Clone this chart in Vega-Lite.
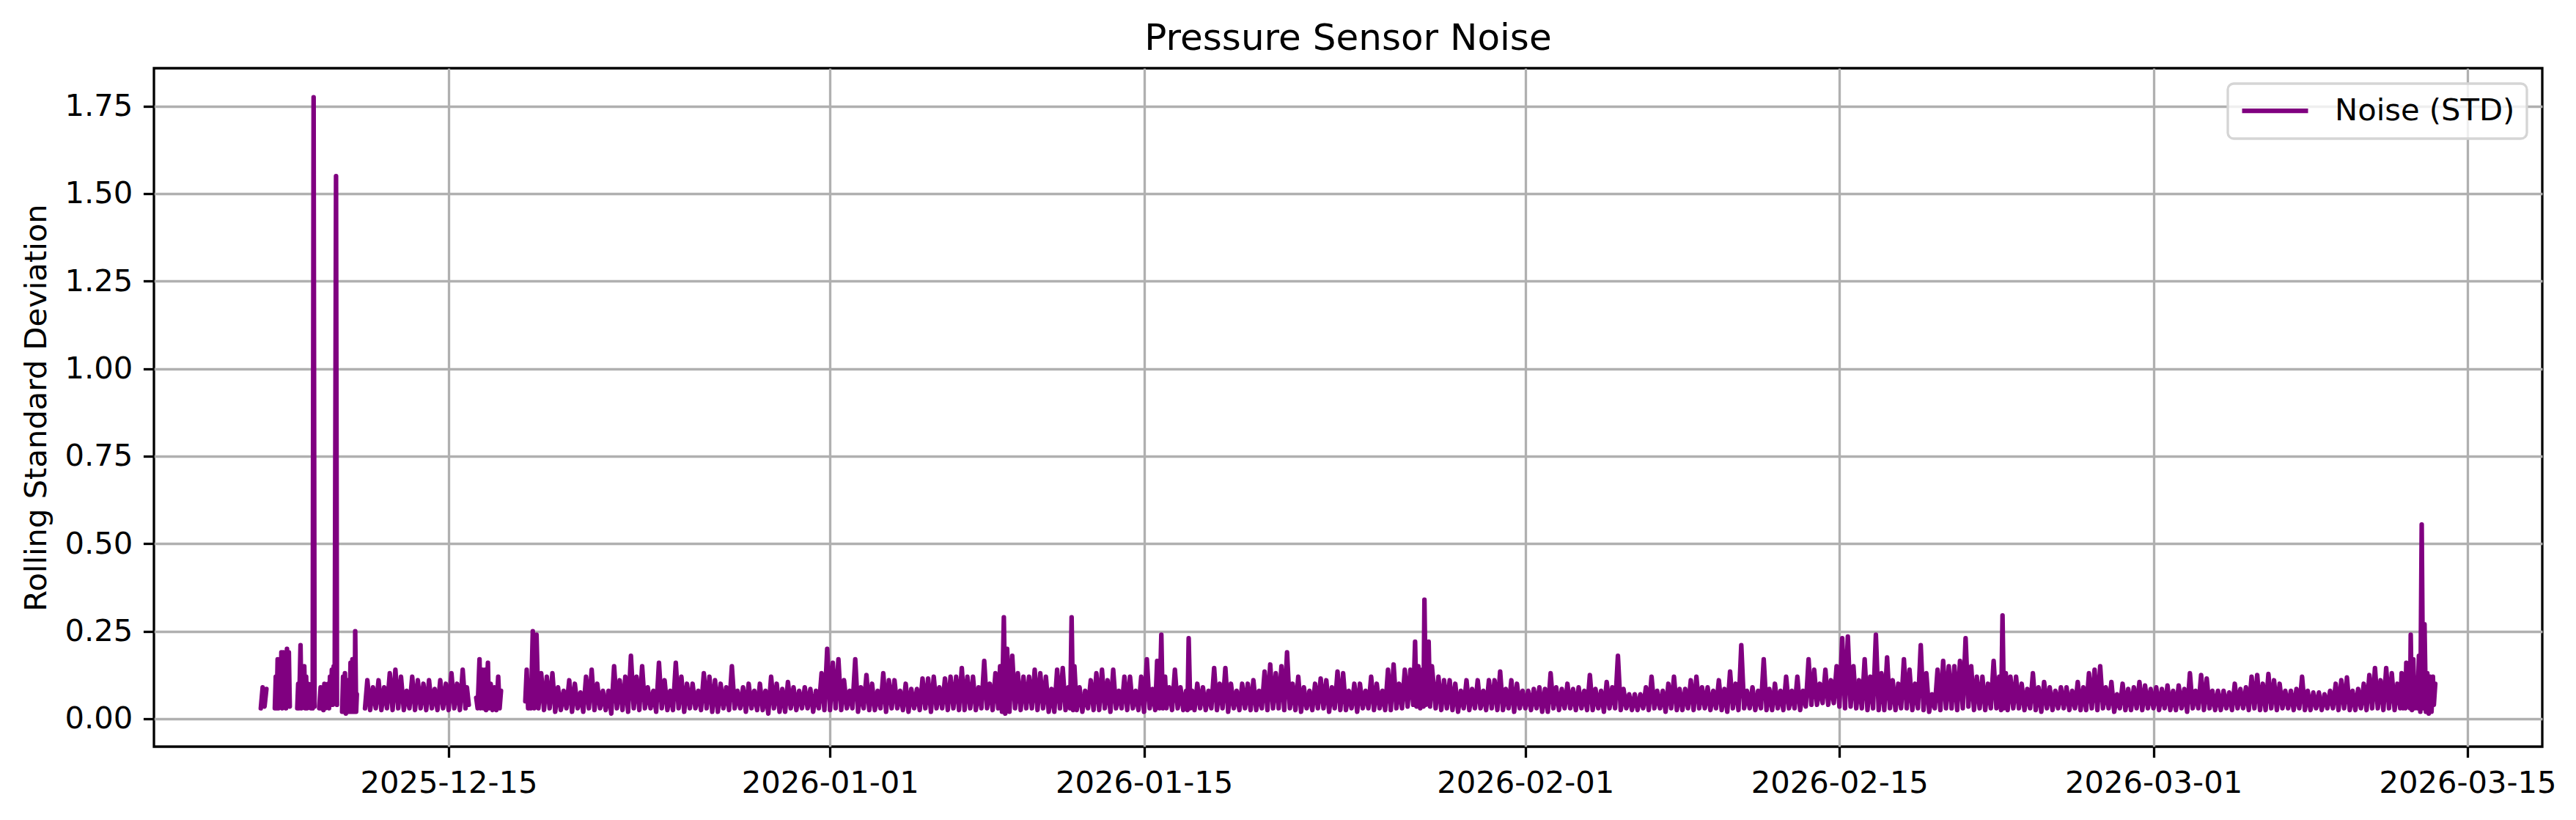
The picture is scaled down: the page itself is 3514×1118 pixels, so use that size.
{
"$schema": "https://vega.github.io/schema/vega-lite/v6.json",
"width": 3258,
"height": 925,
"autosize": {"type": "none"},
"padding": {"left": 210, "top": 93, "right": 46, "bottom": 100},
"background": "white",
"title": {"text": "Pressure Sensor Noise", "fontSize": 50, "font": "DejaVu Sans", "fontWeight": "normal", "color": "black", "anchor": "middle", "frame": "group", "offset": -25, "baseline": "alphabetic"},
"data": {"values": [
{"t":"2025-12-06T15:00","v":0.03},{"t":"2025-12-06T17:00","v":0.09},{"t":"2025-12-06T19:00","v":0.035},{"t":"2025-12-06T21:00","v":0.085},{"t":"2025-12-06T23:00","v":null},
{"t":"2025-12-07T06:00","v":0.03},{"t":"2025-12-07T07:00","v":0.12},{"t":"2025-12-07T08:00","v":0.03},{"t":"2025-12-07T09:00","v":0.17},{"t":"2025-12-07T10:00","v":0.03},{"t":"2025-12-07T11:00","v":0.17},{"t":"2025-12-07T12:00","v":0.035},{"t":"2025-12-07T13:00","v":0.19},{"t":"2025-12-07T14:00","v":0.03},{"t":"2025-12-07T15:00","v":0.19},{"t":"2025-12-07T16:00","v":0.035},{"t":"2025-12-07T17:00","v":0.18},{"t":"2025-12-07T18:00","v":0.03},{"t":"2025-12-07T19:00","v":0.2},{"t":"2025-12-07T20:00","v":0.04},{"t":"2025-12-07T21:00","v":0.19},{"t":"2025-12-07T22:00","v":0.035},{"t":"2025-12-08T02:00","v":null},
{"t":"2025-12-08T06:00","v":0.03},{"t":"2025-12-08T07:00","v":0.1},{"t":"2025-12-08T08:00","v":0.03},{"t":"2025-12-08T09:30","v":0.21},{"t":"2025-12-08T10:30","v":0.03},{"t":"2025-12-08T11:30","v":0.15},{"t":"2025-12-08T12:30","v":0.035},{"t":"2025-12-08T13:30","v":0.15},{"t":"2025-12-08T14:30","v":0.03},{"t":"2025-12-08T15:30","v":0.12},{"t":"2025-12-08T16:30","v":0.03},{"t":"2025-12-08T17:30","v":0.1},{"t":"2025-12-08T18:30","v":0.035},{"t":"2025-12-08T19:30","v":0.09},{"t":"2025-12-08T20:30","v":0.03},{"t":"2025-12-08T21:30","v":0.1},{"t":"2025-12-08T22:30","v":0.03},{"t":"2025-12-08T23:30","v":1.775},{"t":"2025-12-09T00:30","v":0.035},{"t":"2025-12-09T03:00","v":null},
{"t":"2025-12-09T05:30","v":0.03},{"t":"2025-12-09T07:00","v":0.09},{"t":"2025-12-09T08:00","v":0.03},{"t":"2025-12-09T09:00","v":0.08},{"t":"2025-12-09T10:00","v":0.025},{"t":"2025-12-09T11:00","v":0.1},{"t":"2025-12-09T12:00","v":0.03},{"t":"2025-12-09T13:00","v":0.09},{"t":"2025-12-09T14:00","v":0.035},{"t":"2025-12-09T15:00","v":0.1},{"t":"2025-12-09T16:00","v":0.03},{"t":"2025-12-09T17:00","v":0.12},{"t":"2025-12-09T18:00","v":0.04},{"t":"2025-12-09T19:00","v":0.14},{"t":"2025-12-09T20:00","v":0.04},{"t":"2025-12-09T21:00","v":0.15},{"t":"2025-12-09T22:00","v":0.045},{"t":"2025-12-09T23:30","v":1.55},{"t":"2025-12-10T00:30","v":0.04},{"t":"2025-12-10T03:00","v":null},
{"t":"2025-12-10T06:00","v":0.02},{"t":"2025-12-10T07:00","v":0.12},{"t":"2025-12-10T08:00","v":0.02},{"t":"2025-12-10T09:00","v":0.13},{"t":"2025-12-10T10:00","v":0.015},{"t":"2025-12-10T11:00","v":0.11},{"t":"2025-12-10T12:00","v":0.02},{"t":"2025-12-10T13:00","v":0.09},{"t":"2025-12-10T14:00","v":0.02},{"t":"2025-12-10T15:00","v":0.16},{"t":"2025-12-10T16:00","v":0.02},{"t":"2025-12-10T17:00","v":0.17},{"t":"2025-12-10T18:00","v":0.02},{"t":"2025-12-10T19:00","v":0.06},{"t":"2025-12-10T19:30","v":0.02},{"t":"2025-12-10T20:00","v":0.25},{"t":"2025-12-10T21:00","v":0.02},{"t":"2025-12-10T21:45","v":0.07},{"t":"2025-12-10T23:30","v":null},
{"t":"2025-12-11T06:30","v":0.03},{"t":"2025-12-11T09:00","v":0.11},{"t":"2025-12-11T12:00","v":0.025},{"t":"2025-12-11T15:00","v":0.09},{"t":"2025-12-11T18:00","v":0.03},{"t":"2025-12-11T21:00","v":0.11},
{"t":"2025-12-12T00:00","v":0.025},{"t":"2025-12-12T03:00","v":0.09},{"t":"2025-12-12T06:00","v":0.03},{"t":"2025-12-12T09:00","v":0.13},{"t":"2025-12-12T12:00","v":0.025},{"t":"2025-12-12T15:00","v":0.14},{"t":"2025-12-12T18:00","v":0.03},{"t":"2025-12-12T21:00","v":0.12},
{"t":"2025-12-13T00:00","v":0.025},{"t":"2025-12-13T03:00","v":0.08},{"t":"2025-12-13T06:00","v":0.03},{"t":"2025-12-13T09:00","v":0.12},{"t":"2025-12-13T12:00","v":0.025},{"t":"2025-12-13T15:00","v":0.11},{"t":"2025-12-13T18:00","v":0.03},{"t":"2025-12-13T21:00","v":0.1},
{"t":"2025-12-14T00:00","v":0.025},{"t":"2025-12-14T03:00","v":0.11},{"t":"2025-12-14T06:00","v":0.03},{"t":"2025-12-14T09:00","v":0.085},{"t":"2025-12-14T12:00","v":0.025},{"t":"2025-12-14T15:00","v":0.11},{"t":"2025-12-14T18:00","v":0.03},{"t":"2025-12-14T21:00","v":0.1},
{"t":"2025-12-15T00:00","v":0.025},{"t":"2025-12-15T03:00","v":0.13},{"t":"2025-12-15T06:00","v":0.03},{"t":"2025-12-15T09:00","v":0.1},{"t":"2025-12-15T12:00","v":0.025},{"t":"2025-12-15T15:00","v":0.14},{"t":"2025-12-15T18:00","v":0.03},{"t":"2025-12-15T19:30","v":0.09},{"t":"2025-12-15T21:30","v":0.04},{"t":"2025-12-16T00:00","v":null},
{"t":"2025-12-16T05:30","v":0.06},{"t":"2025-12-16T07:00","v":0.03},{"t":"2025-12-16T09:00","v":0.17},{"t":"2025-12-16T10:00","v":0.03},{"t":"2025-12-16T12:00","v":0.14},{"t":"2025-12-16T13:00","v":0.03},{"t":"2025-12-16T15:00","v":0.14},{"t":"2025-12-16T16:00","v":0.025},{"t":"2025-12-16T18:00","v":0.16},{"t":"2025-12-16T19:00","v":0.03},{"t":"2025-12-16T21:00","v":0.1},{"t":"2025-12-16T23:00","v":0.025},{"t":"2025-12-17T01:00","v":0.09},{"t":"2025-12-17T03:00","v":0.025},{"t":"2025-12-17T05:00","v":0.12},{"t":"2025-12-17T06:30","v":0.03},{"t":"2025-12-17T08:00","v":0.08},{"t":"2025-12-17T12:00","v":null},
{"t":"2025-12-18T10:00","v":0.05},{"t":"2025-12-18T11:30","v":0.14},{"t":"2025-12-18T13:00","v":0.03},{"t":"2025-12-18T14:30","v":0.09},{"t":"2025-12-18T16:00","v":0.03},{"t":"2025-12-18T18:00","v":0.25},{"t":"2025-12-18T19:30","v":0.03},{"t":"2025-12-18T22:00","v":0.24},
{"t":"2025-12-19T00:00","v":0.03},{"t":"2025-12-19T03:00","v":0.13},{"t":"2025-12-19T06:00","v":0.025},{"t":"2025-12-19T09:00","v":0.12},{"t":"2025-12-19T12:00","v":0.03},{"t":"2025-12-19T15:00","v":0.13},{"t":"2025-12-19T18:00","v":0.02},{"t":"2025-12-19T21:00","v":0.09},
{"t":"2025-12-20T00:00","v":0.025},{"t":"2025-12-20T03:00","v":0.08},{"t":"2025-12-20T06:00","v":0.03},{"t":"2025-12-20T09:00","v":0.11},{"t":"2025-12-20T12:00","v":0.02},{"t":"2025-12-20T15:00","v":0.1},{"t":"2025-12-20T18:00","v":0.03},{"t":"2025-12-20T21:00","v":0.075},
{"t":"2025-12-21T00:00","v":0.02},{"t":"2025-12-21T03:00","v":0.12},{"t":"2025-12-21T06:00","v":0.03},{"t":"2025-12-21T09:00","v":0.14},{"t":"2025-12-21T12:00","v":0.025},{"t":"2025-12-21T15:00","v":0.1},{"t":"2025-12-21T18:00","v":0.03},{"t":"2025-12-21T21:00","v":0.08},
{"t":"2025-12-22T00:00","v":0.025},{"t":"2025-12-22T03:00","v":0.08},{"t":"2025-12-22T06:00","v":0.015},{"t":"2025-12-22T09:00","v":0.15},{"t":"2025-12-22T12:00","v":0.03},{"t":"2025-12-22T15:00","v":0.11},{"t":"2025-12-22T18:00","v":0.025},{"t":"2025-12-22T21:00","v":0.12},
{"t":"2025-12-23T00:00","v":0.02},{"t":"2025-12-23T03:00","v":0.18},{"t":"2025-12-23T06:00","v":0.03},{"t":"2025-12-23T09:00","v":0.12},{"t":"2025-12-23T12:00","v":0.025},{"t":"2025-12-23T15:00","v":0.15},{"t":"2025-12-23T18:00","v":0.03},{"t":"2025-12-23T21:00","v":0.09},
{"t":"2025-12-24T00:00","v":0.03},{"t":"2025-12-24T03:00","v":0.08},{"t":"2025-12-24T06:00","v":0.02},{"t":"2025-12-24T09:00","v":0.16},{"t":"2025-12-24T12:00","v":0.03},{"t":"2025-12-24T15:00","v":0.11},{"t":"2025-12-24T18:00","v":0.025},{"t":"2025-12-24T21:00","v":0.08},
{"t":"2025-12-25T00:00","v":0.025},{"t":"2025-12-25T03:00","v":0.16},{"t":"2025-12-25T06:00","v":0.03},{"t":"2025-12-25T09:00","v":0.12},{"t":"2025-12-25T12:00","v":0.02},{"t":"2025-12-25T15:00","v":0.1},{"t":"2025-12-25T18:00","v":0.03},{"t":"2025-12-25T21:00","v":0.1},
{"t":"2025-12-26T00:00","v":0.03},{"t":"2025-12-26T03:00","v":0.08},{"t":"2025-12-26T06:00","v":0.025},{"t":"2025-12-26T09:00","v":0.13},{"t":"2025-12-26T12:00","v":0.03},{"t":"2025-12-26T15:00","v":0.12},{"t":"2025-12-26T18:00","v":0.02},{"t":"2025-12-26T21:00","v":0.11},
{"t":"2025-12-27T00:00","v":0.02},{"t":"2025-12-27T03:00","v":0.1},{"t":"2025-12-27T06:00","v":0.03},{"t":"2025-12-27T09:00","v":0.09},{"t":"2025-12-27T12:00","v":0.025},{"t":"2025-12-27T15:00","v":0.15},{"t":"2025-12-27T18:00","v":0.03},{"t":"2025-12-27T21:00","v":0.08},
{"t":"2025-12-28T00:00","v":0.03},{"t":"2025-12-28T03:00","v":0.09},{"t":"2025-12-28T06:00","v":0.02},{"t":"2025-12-28T09:00","v":0.1},{"t":"2025-12-28T12:00","v":0.03},{"t":"2025-12-28T15:00","v":0.08},{"t":"2025-12-28T18:00","v":0.025},{"t":"2025-12-28T21:00","v":0.1},
{"t":"2025-12-29T00:00","v":0.025},{"t":"2025-12-29T03:00","v":0.08},{"t":"2025-12-29T06:00","v":0.015},{"t":"2025-12-29T09:00","v":0.12},{"t":"2025-12-29T12:00","v":0.03},{"t":"2025-12-29T15:00","v":0.1},{"t":"2025-12-29T18:00","v":0.02},{"t":"2025-12-29T21:00","v":0.085},
{"t":"2025-12-30T00:00","v":0.02},{"t":"2025-12-30T03:00","v":0.105},{"t":"2025-12-30T06:00","v":0.03},{"t":"2025-12-30T09:00","v":0.09},{"t":"2025-12-30T12:00","v":0.025},{"t":"2025-12-30T15:00","v":0.08},{"t":"2025-12-30T18:00","v":0.03},{"t":"2025-12-30T21:00","v":0.09},
{"t":"2025-12-31T00:00","v":0.03},{"t":"2025-12-31T03:00","v":0.085},{"t":"2025-12-31T06:00","v":0.02},{"t":"2025-12-31T09:00","v":0.08},{"t":"2025-12-31T12:00","v":0.03},{"t":"2025-12-31T15:00","v":0.13},{"t":"2025-12-31T18:00","v":0.025},{"t":"2025-12-31T21:00","v":0.2},
{"t":"2026-01-01T00:00","v":0.025},{"t":"2026-01-01T03:00","v":0.16},{"t":"2026-01-01T06:00","v":0.03},{"t":"2026-01-01T09:00","v":0.17},{"t":"2026-01-01T12:00","v":0.025},{"t":"2026-01-01T15:00","v":0.11},{"t":"2026-01-01T18:00","v":0.03},{"t":"2026-01-01T21:00","v":0.08},
{"t":"2026-01-02T00:00","v":0.03},{"t":"2026-01-02T03:00","v":0.17},{"t":"2026-01-02T06:00","v":0.02},{"t":"2026-01-02T09:00","v":0.09},{"t":"2026-01-02T12:00","v":0.03},{"t":"2026-01-02T15:00","v":0.125},{"t":"2026-01-02T18:00","v":0.025},{"t":"2026-01-02T21:00","v":0.1},
{"t":"2026-01-03T00:00","v":0.025},{"t":"2026-01-03T03:00","v":0.08},{"t":"2026-01-03T06:00","v":0.03},{"t":"2026-01-03T09:00","v":0.13},{"t":"2026-01-03T12:00","v":0.02},{"t":"2026-01-03T15:00","v":0.11},{"t":"2026-01-03T18:00","v":0.03},{"t":"2026-01-03T21:00","v":0.11},
{"t":"2026-01-04T00:00","v":0.03},{"t":"2026-01-04T03:00","v":0.08},{"t":"2026-01-04T06:00","v":0.025},{"t":"2026-01-04T09:00","v":0.1},{"t":"2026-01-04T12:00","v":0.02},{"t":"2026-01-04T15:00","v":0.085},{"t":"2026-01-04T18:00","v":0.03},{"t":"2026-01-04T21:00","v":0.085},
{"t":"2026-01-05T00:00","v":0.025},{"t":"2026-01-05T03:00","v":0.115},{"t":"2026-01-05T06:00","v":0.03},{"t":"2026-01-05T09:00","v":0.115},{"t":"2026-01-05T12:00","v":0.02},{"t":"2026-01-05T15:00","v":0.12},{"t":"2026-01-05T18:00","v":0.03},{"t":"2026-01-05T21:00","v":0.09},
{"t":"2026-01-06T00:00","v":0.03},{"t":"2026-01-06T03:00","v":0.115},{"t":"2026-01-06T06:00","v":0.025},{"t":"2026-01-06T09:00","v":0.12},{"t":"2026-01-06T12:00","v":0.03},{"t":"2026-01-06T15:00","v":0.12},{"t":"2026-01-06T18:00","v":0.025},{"t":"2026-01-06T21:00","v":0.145},
{"t":"2026-01-07T00:00","v":0.025},{"t":"2026-01-07T03:00","v":0.12},{"t":"2026-01-07T06:00","v":0.03},{"t":"2026-01-07T09:00","v":0.12},{"t":"2026-01-07T12:00","v":0.025},{"t":"2026-01-07T15:00","v":0.09},{"t":"2026-01-07T18:00","v":0.03},{"t":"2026-01-07T21:00","v":0.165},
{"t":"2026-01-08T00:00","v":0.03},{"t":"2026-01-08T03:00","v":0.1},{"t":"2026-01-08T06:00","v":0.025},{"t":"2026-01-08T09:00","v":0.13},{"t":"2026-01-08T12:00","v":0.03},{"t":"2026-01-08T14:00","v":0.15},{"t":"2026-01-08T16:00","v":0.02},{"t":"2026-01-08T18:00","v":0.29},{"t":"2026-01-08T19:30","v":0.015},{"t":"2026-01-08T21:30","v":0.2},
{"t":"2026-01-09T00:00","v":0.02},{"t":"2026-01-09T03:00","v":0.18},{"t":"2026-01-09T06:00","v":0.03},{"t":"2026-01-09T09:00","v":0.13},{"t":"2026-01-09T12:00","v":0.025},{"t":"2026-01-09T15:00","v":0.12},{"t":"2026-01-09T18:00","v":0.03},{"t":"2026-01-09T21:00","v":0.12},
{"t":"2026-01-10T00:00","v":0.03},{"t":"2026-01-10T03:00","v":0.14},{"t":"2026-01-10T06:00","v":0.025},{"t":"2026-01-10T09:00","v":0.13},{"t":"2026-01-10T12:00","v":0.03},{"t":"2026-01-10T15:00","v":0.12},{"t":"2026-01-10T18:00","v":0.02},{"t":"2026-01-10T21:00","v":0.085},
{"t":"2026-01-11T00:00","v":0.02},{"t":"2026-01-11T03:00","v":0.14},{"t":"2026-01-11T06:00","v":0.03},{"t":"2026-01-11T09:00","v":0.145},{"t":"2026-01-11T12:00","v":0.025},{"t":"2026-01-11T15:00","v":0.09},{"t":"2026-01-11T17:00","v":0.03},{"t":"2026-01-11T18:30","v":0.29},{"t":"2026-01-11T20:00","v":0.025},{"t":"2026-01-11T21:30","v":0.15},
{"t":"2026-01-12T00:00","v":0.025},{"t":"2026-01-12T03:00","v":0.09},{"t":"2026-01-12T06:00","v":0.02},{"t":"2026-01-12T09:00","v":0.08},{"t":"2026-01-12T12:00","v":0.03},{"t":"2026-01-12T15:00","v":0.11},{"t":"2026-01-12T18:00","v":0.025},{"t":"2026-01-12T21:00","v":0.13},
{"t":"2026-01-13T00:00","v":0.025},{"t":"2026-01-13T03:00","v":0.14},{"t":"2026-01-13T06:00","v":0.03},{"t":"2026-01-13T09:00","v":0.11},{"t":"2026-01-13T12:00","v":0.02},{"t":"2026-01-13T15:00","v":0.14},{"t":"2026-01-13T18:00","v":0.03},{"t":"2026-01-13T21:00","v":0.08},
{"t":"2026-01-14T00:00","v":0.03},{"t":"2026-01-14T03:00","v":0.12},{"t":"2026-01-14T06:00","v":0.025},{"t":"2026-01-14T09:00","v":0.12},{"t":"2026-01-14T12:00","v":0.03},{"t":"2026-01-14T15:00","v":0.08},{"t":"2026-01-14T18:00","v":0.025},{"t":"2026-01-14T21:00","v":0.12},
{"t":"2026-01-15T00:00","v":0.02},{"t":"2026-01-15T03:00","v":0.17},{"t":"2026-01-15T06:00","v":0.03},{"t":"2026-01-15T09:00","v":0.085},{"t":"2026-01-15T12:00","v":0.025},{"t":"2026-01-15T14:00","v":0.165},{"t":"2026-01-15T16:30","v":0.03},{"t":"2026-01-15T18:30","v":0.24},{"t":"2026-01-15T20:00","v":0.03},{"t":"2026-01-15T22:30","v":0.12},
{"t":"2026-01-16T00:00","v":0.03},{"t":"2026-01-16T03:00","v":0.09},{"t":"2026-01-16T06:00","v":0.025},{"t":"2026-01-16T09:00","v":0.14},{"t":"2026-01-16T12:00","v":0.03},{"t":"2026-01-16T15:00","v":0.09},{"t":"2026-01-16T18:00","v":0.025},{"t":"2026-01-16T21:00","v":0.08},{"t":"2026-01-16T22:30","v":0.025},{"t":"2026-01-16T23:45","v":0.23},
{"t":"2026-01-17T01:30","v":0.03},{"t":"2026-01-17T03:30","v":0.08},{"t":"2026-01-17T06:00","v":0.025},{"t":"2026-01-17T09:00","v":0.1},{"t":"2026-01-17T12:00","v":0.03},{"t":"2026-01-17T15:00","v":0.09},{"t":"2026-01-17T18:00","v":0.025},{"t":"2026-01-17T21:00","v":0.08},
{"t":"2026-01-18T00:00","v":0.03},{"t":"2026-01-18T03:00","v":0.145},{"t":"2026-01-18T06:00","v":0.025},{"t":"2026-01-18T09:00","v":0.1},{"t":"2026-01-18T12:00","v":0.03},{"t":"2026-01-18T15:00","v":0.145},{"t":"2026-01-18T18:00","v":0.02},{"t":"2026-01-18T21:00","v":0.1},
{"t":"2026-01-19T00:00","v":0.03},{"t":"2026-01-19T03:00","v":0.08},{"t":"2026-01-19T06:00","v":0.025},{"t":"2026-01-19T09:00","v":0.1},{"t":"2026-01-19T12:00","v":0.03},{"t":"2026-01-19T15:00","v":0.1},{"t":"2026-01-19T18:00","v":0.025},{"t":"2026-01-19T21:00","v":0.11},
{"t":"2026-01-20T00:00","v":0.025},{"t":"2026-01-20T03:00","v":0.08},{"t":"2026-01-20T06:00","v":0.03},{"t":"2026-01-20T09:00","v":0.135},{"t":"2026-01-20T12:00","v":0.025},{"t":"2026-01-20T15:00","v":0.155},{"t":"2026-01-20T18:00","v":0.03},{"t":"2026-01-20T21:00","v":0.13},
{"t":"2026-01-21T00:00","v":0.03},{"t":"2026-01-21T03:00","v":0.15},{"t":"2026-01-21T06:00","v":0.025},{"t":"2026-01-21T09:00","v":0.19},{"t":"2026-01-21T12:00","v":0.03},{"t":"2026-01-21T15:00","v":0.1},{"t":"2026-01-21T18:00","v":0.025},{"t":"2026-01-21T21:00","v":0.12},
{"t":"2026-01-22T00:00","v":0.02},{"t":"2026-01-22T03:00","v":0.09},{"t":"2026-01-22T06:00","v":0.03},{"t":"2026-01-22T09:00","v":0.08},{"t":"2026-01-22T12:00","v":0.025},{"t":"2026-01-22T15:00","v":0.1},{"t":"2026-01-22T18:00","v":0.03},{"t":"2026-01-22T21:00","v":0.115},
{"t":"2026-01-23T00:00","v":0.03},{"t":"2026-01-23T03:00","v":0.11},{"t":"2026-01-23T06:00","v":0.02},{"t":"2026-01-23T09:00","v":0.09},{"t":"2026-01-23T12:00","v":0.03},{"t":"2026-01-23T15:00","v":0.135},{"t":"2026-01-23T18:00","v":0.025},{"t":"2026-01-23T21:00","v":0.13},
{"t":"2026-01-24T00:00","v":0.025},{"t":"2026-01-24T03:00","v":0.08},{"t":"2026-01-24T06:00","v":0.03},{"t":"2026-01-24T09:00","v":0.1},{"t":"2026-01-24T12:00","v":0.02},{"t":"2026-01-24T15:00","v":0.1},{"t":"2026-01-24T18:00","v":0.03},{"t":"2026-01-24T21:00","v":0.08},
{"t":"2026-01-25T00:00","v":0.03},{"t":"2026-01-25T03:00","v":0.12},{"t":"2026-01-25T06:00","v":0.025},{"t":"2026-01-25T09:00","v":0.1},{"t":"2026-01-25T12:00","v":0.03},{"t":"2026-01-25T15:00","v":0.08},{"t":"2026-01-25T18:00","v":0.025},{"t":"2026-01-25T21:00","v":0.14},
{"t":"2026-01-26T00:00","v":0.025},{"t":"2026-01-26T03:00","v":0.155},{"t":"2026-01-26T06:00","v":0.03},{"t":"2026-01-26T09:00","v":0.1},{"t":"2026-01-26T12:00","v":0.03},{"t":"2026-01-26T15:00","v":0.14},{"t":"2026-01-26T18:00","v":0.035},{"t":"2026-01-26T21:00","v":0.14},
{"t":"2026-01-27T00:00","v":0.04},{"t":"2026-01-27T02:00","v":0.22},{"t":"2026-01-27T03:30","v":0.035},{"t":"2026-01-27T05:30","v":0.15},{"t":"2026-01-27T07:30","v":0.03},{"t":"2026-01-27T09:30","v":0.14},{"t":"2026-01-27T11:00","v":0.035},{"t":"2026-01-27T12:00","v":0.34},{"t":"2026-01-27T13:30","v":0.04},{"t":"2026-01-27T16:30","v":0.22},{"t":"2026-01-27T18:00","v":0.035},{"t":"2026-01-27T20:00","v":0.15},
{"t":"2026-01-28T00:00","v":0.03},{"t":"2026-01-28T03:00","v":0.12},{"t":"2026-01-28T06:00","v":0.025},{"t":"2026-01-28T09:00","v":0.11},{"t":"2026-01-28T12:00","v":0.03},{"t":"2026-01-28T15:00","v":0.11},{"t":"2026-01-28T18:00","v":0.025},{"t":"2026-01-28T21:00","v":0.1},
{"t":"2026-01-29T00:00","v":0.02},{"t":"2026-01-29T03:00","v":0.08},{"t":"2026-01-29T06:00","v":0.03},{"t":"2026-01-29T09:00","v":0.11},{"t":"2026-01-29T12:00","v":0.025},{"t":"2026-01-29T15:00","v":0.085},{"t":"2026-01-29T18:00","v":0.03},{"t":"2026-01-29T21:00","v":0.11},
{"t":"2026-01-30T00:00","v":0.03},{"t":"2026-01-30T03:00","v":0.08},{"t":"2026-01-30T06:00","v":0.025},{"t":"2026-01-30T09:00","v":0.11},{"t":"2026-01-30T12:00","v":0.03},{"t":"2026-01-30T15:00","v":0.11},{"t":"2026-01-30T18:00","v":0.025},{"t":"2026-01-30T21:00","v":0.135},
{"t":"2026-01-31T00:00","v":0.025},{"t":"2026-01-31T03:00","v":0.085},{"t":"2026-01-31T06:00","v":0.03},{"t":"2026-01-31T09:00","v":0.11},{"t":"2026-01-31T12:00","v":0.02},{"t":"2026-01-31T15:00","v":0.1},{"t":"2026-01-31T18:00","v":0.03},{"t":"2026-01-31T21:00","v":0.08},
{"t":"2026-02-01T00:00","v":0.03},{"t":"2026-02-01T03:00","v":0.08},{"t":"2026-02-01T06:00","v":0.025},{"t":"2026-02-01T09:00","v":0.085},{"t":"2026-02-01T12:00","v":0.03},{"t":"2026-02-01T15:00","v":0.09},{"t":"2026-02-01T18:00","v":0.02},{"t":"2026-02-01T21:00","v":0.085},
{"t":"2026-02-02T00:00","v":0.02},{"t":"2026-02-02T03:00","v":0.13},{"t":"2026-02-02T06:00","v":0.03},{"t":"2026-02-02T09:00","v":0.09},{"t":"2026-02-02T12:00","v":0.025},{"t":"2026-02-02T15:00","v":0.085},{"t":"2026-02-02T18:00","v":0.03},{"t":"2026-02-02T21:00","v":0.1},
{"t":"2026-02-03T00:00","v":0.03},{"t":"2026-02-03T03:00","v":0.085},{"t":"2026-02-03T06:00","v":0.025},{"t":"2026-02-03T09:00","v":0.09},{"t":"2026-02-03T12:00","v":0.03},{"t":"2026-02-03T15:00","v":0.08},{"t":"2026-02-03T18:00","v":0.025},{"t":"2026-02-03T21:00","v":0.125},
{"t":"2026-02-04T00:00","v":0.025},{"t":"2026-02-04T03:00","v":0.085},{"t":"2026-02-04T06:00","v":0.03},{"t":"2026-02-04T09:00","v":0.08},{"t":"2026-02-04T12:00","v":0.02},{"t":"2026-02-04T15:00","v":0.105},{"t":"2026-02-04T18:00","v":0.03},{"t":"2026-02-04T21:00","v":0.09},
{"t":"2026-02-05T00:00","v":0.03},{"t":"2026-02-05T03:00","v":0.18},{"t":"2026-02-05T06:00","v":0.025},{"t":"2026-02-05T09:00","v":0.085},{"t":"2026-02-05T12:00","v":0.03},{"t":"2026-02-05T15:00","v":0.07},{"t":"2026-02-05T18:00","v":0.025},{"t":"2026-02-05T21:00","v":0.07},
{"t":"2026-02-06T00:00","v":0.025},{"t":"2026-02-06T03:00","v":0.07},{"t":"2026-02-06T06:00","v":0.03},{"t":"2026-02-06T09:00","v":0.09},{"t":"2026-02-06T12:00","v":0.025},{"t":"2026-02-06T15:00","v":0.12},{"t":"2026-02-06T18:00","v":0.03},{"t":"2026-02-06T21:00","v":0.08},
{"t":"2026-02-07T00:00","v":0.03},{"t":"2026-02-07T03:00","v":0.08},{"t":"2026-02-07T06:00","v":0.02},{"t":"2026-02-07T09:00","v":0.1},{"t":"2026-02-07T12:00","v":0.03},{"t":"2026-02-07T15:00","v":0.12},{"t":"2026-02-07T18:00","v":0.025},{"t":"2026-02-07T21:00","v":0.085},
{"t":"2026-02-08T00:00","v":0.025},{"t":"2026-02-08T03:00","v":0.085},{"t":"2026-02-08T06:00","v":0.03},{"t":"2026-02-08T09:00","v":0.11},{"t":"2026-02-08T12:00","v":0.025},{"t":"2026-02-08T15:00","v":0.12},{"t":"2026-02-08T18:00","v":0.03},{"t":"2026-02-08T21:00","v":0.09},
{"t":"2026-02-09T00:00","v":0.03},{"t":"2026-02-09T03:00","v":0.09},{"t":"2026-02-09T06:00","v":0.025},{"t":"2026-02-09T09:00","v":0.08},{"t":"2026-02-09T12:00","v":0.03},{"t":"2026-02-09T15:00","v":0.11},{"t":"2026-02-09T18:00","v":0.025},{"t":"2026-02-09T21:00","v":0.085},
{"t":"2026-02-10T00:00","v":0.02},{"t":"2026-02-10T03:00","v":0.135},{"t":"2026-02-10T06:00","v":0.03},{"t":"2026-02-10T09:00","v":0.1},{"t":"2026-02-10T12:00","v":0.025},{"t":"2026-02-10T15:00","v":0.21},{"t":"2026-02-10T18:00","v":0.03},{"t":"2026-02-10T21:00","v":0.08},
{"t":"2026-02-11T00:00","v":0.03},{"t":"2026-02-11T03:00","v":0.09},{"t":"2026-02-11T06:00","v":0.025},{"t":"2026-02-11T09:00","v":0.08},{"t":"2026-02-11T12:00","v":0.03},{"t":"2026-02-11T15:00","v":0.17},{"t":"2026-02-11T18:00","v":0.025},{"t":"2026-02-11T21:00","v":0.085},
{"t":"2026-02-12T00:00","v":0.025},{"t":"2026-02-12T03:00","v":0.1},{"t":"2026-02-12T06:00","v":0.03},{"t":"2026-02-12T09:00","v":0.08},{"t":"2026-02-12T12:00","v":0.025},{"t":"2026-02-12T15:00","v":0.12},{"t":"2026-02-12T18:00","v":0.03},{"t":"2026-02-12T21:00","v":0.08},
{"t":"2026-02-13T00:00","v":0.03},{"t":"2026-02-13T03:00","v":0.12},{"t":"2026-02-13T06:00","v":0.025},{"t":"2026-02-13T09:00","v":0.08},{"t":"2026-02-13T12:00","v":0.035},{"t":"2026-02-13T15:00","v":0.17},{"t":"2026-02-13T18:00","v":0.04},{"t":"2026-02-13T21:00","v":0.14},
{"t":"2026-02-14T00:00","v":0.04},{"t":"2026-02-14T03:00","v":0.1},{"t":"2026-02-14T06:00","v":0.045},{"t":"2026-02-14T09:00","v":0.14},{"t":"2026-02-14T12:00","v":0.04},{"t":"2026-02-14T15:00","v":0.11},{"t":"2026-02-14T18:00","v":0.045},{"t":"2026-02-14T21:00","v":0.15},
{"t":"2026-02-15T00:00","v":0.035},{"t":"2026-02-15T03:00","v":0.23},{"t":"2026-02-15T06:00","v":0.03},{"t":"2026-02-15T09:00","v":0.235},{"t":"2026-02-15T12:00","v":0.035},{"t":"2026-02-15T15:00","v":0.15},{"t":"2026-02-15T18:00","v":0.03},{"t":"2026-02-15T21:00","v":0.11},
{"t":"2026-02-16T00:00","v":0.03},{"t":"2026-02-16T03:00","v":0.17},{"t":"2026-02-16T06:00","v":0.025},{"t":"2026-02-16T09:00","v":0.12},{"t":"2026-02-16T12:00","v":0.03},{"t":"2026-02-16T15:00","v":0.24},{"t":"2026-02-16T18:00","v":0.025},{"t":"2026-02-16T21:00","v":0.13},
{"t":"2026-02-17T00:00","v":0.025},{"t":"2026-02-17T03:00","v":0.175},{"t":"2026-02-17T06:00","v":0.03},{"t":"2026-02-17T09:00","v":0.11},{"t":"2026-02-17T12:00","v":0.025},{"t":"2026-02-17T15:00","v":0.1},{"t":"2026-02-17T18:00","v":0.03},{"t":"2026-02-17T21:00","v":0.17},
{"t":"2026-02-18T00:00","v":0.03},{"t":"2026-02-18T03:00","v":0.14},{"t":"2026-02-18T06:00","v":0.025},{"t":"2026-02-18T09:00","v":0.1},{"t":"2026-02-18T12:00","v":0.03},{"t":"2026-02-18T15:00","v":0.21},{"t":"2026-02-18T18:00","v":0.025},{"t":"2026-02-18T21:00","v":0.13},
{"t":"2026-02-19T00:00","v":0.02},{"t":"2026-02-19T03:00","v":0.07},{"t":"2026-02-19T06:00","v":0.03},{"t":"2026-02-19T09:00","v":0.14},{"t":"2026-02-19T12:00","v":0.025},{"t":"2026-02-19T15:00","v":0.165},{"t":"2026-02-19T18:00","v":0.03},{"t":"2026-02-19T21:00","v":0.15},
{"t":"2026-02-20T00:00","v":0.03},{"t":"2026-02-20T03:00","v":0.15},{"t":"2026-02-20T06:00","v":0.025},{"t":"2026-02-20T09:00","v":0.165},{"t":"2026-02-20T12:00","v":0.03},{"t":"2026-02-20T15:00","v":0.23},{"t":"2026-02-20T18:00","v":0.035},{"t":"2026-02-20T21:00","v":0.15},
{"t":"2026-02-21T00:00","v":0.025},{"t":"2026-02-21T03:00","v":0.12},{"t":"2026-02-21T06:00","v":0.03},{"t":"2026-02-21T09:00","v":0.12},{"t":"2026-02-21T12:00","v":0.025},{"t":"2026-02-21T15:00","v":0.1},{"t":"2026-02-21T18:00","v":0.03},{"t":"2026-02-21T21:00","v":0.165},
{"t":"2026-02-22T00:00","v":0.03},{"t":"2026-02-22T03:00","v":0.12},{"t":"2026-02-22T05:00","v":0.025},{"t":"2026-02-22T06:30","v":0.295},{"t":"2026-02-22T08:00","v":0.03},{"t":"2026-02-22T10:00","v":0.13},{"t":"2026-02-22T12:00","v":0.025},{"t":"2026-02-22T15:00","v":0.12},{"t":"2026-02-22T18:00","v":0.03},{"t":"2026-02-22T21:00","v":0.12},
{"t":"2026-02-23T00:00","v":0.03},{"t":"2026-02-23T03:00","v":0.1},{"t":"2026-02-23T06:00","v":0.025},{"t":"2026-02-23T09:00","v":0.085},{"t":"2026-02-23T12:00","v":0.03},{"t":"2026-02-23T15:00","v":0.13},{"t":"2026-02-23T18:00","v":0.025},{"t":"2026-02-23T21:00","v":0.09},
{"t":"2026-02-24T00:00","v":0.02},{"t":"2026-02-24T03:00","v":0.105},{"t":"2026-02-24T06:00","v":0.03},{"t":"2026-02-24T09:00","v":0.09},{"t":"2026-02-24T12:00","v":0.025},{"t":"2026-02-24T15:00","v":0.08},{"t":"2026-02-24T18:00","v":0.03},{"t":"2026-02-24T21:00","v":0.09},
{"t":"2026-02-25T00:00","v":0.03},{"t":"2026-02-25T03:00","v":0.09},{"t":"2026-02-25T06:00","v":0.025},{"t":"2026-02-25T09:00","v":0.08},{"t":"2026-02-25T12:00","v":0.03},{"t":"2026-02-25T15:00","v":0.105},{"t":"2026-02-25T18:00","v":0.025},{"t":"2026-02-25T21:00","v":0.09},
{"t":"2026-02-26T00:00","v":0.025},{"t":"2026-02-26T03:00","v":0.13},{"t":"2026-02-26T06:00","v":0.03},{"t":"2026-02-26T09:00","v":0.14},{"t":"2026-02-26T12:00","v":0.025},{"t":"2026-02-26T15:00","v":0.15},{"t":"2026-02-26T18:00","v":0.03},{"t":"2026-02-26T21:00","v":0.09},
{"t":"2026-02-27T00:00","v":0.03},{"t":"2026-02-27T03:00","v":0.105},{"t":"2026-02-27T06:00","v":0.02},{"t":"2026-02-27T09:00","v":0.07},{"t":"2026-02-27T12:00","v":0.03},{"t":"2026-02-27T15:00","v":0.1},{"t":"2026-02-27T18:00","v":0.025},{"t":"2026-02-27T21:00","v":0.085},
{"t":"2026-02-28T00:00","v":0.025},{"t":"2026-02-28T03:00","v":0.09},{"t":"2026-02-28T06:00","v":0.03},{"t":"2026-02-28T09:00","v":0.105},{"t":"2026-02-28T12:00","v":0.025},{"t":"2026-02-28T15:00","v":0.095},{"t":"2026-02-28T18:00","v":0.03},{"t":"2026-02-28T21:00","v":0.085},
{"t":"2026-03-01T00:00","v":0.03},{"t":"2026-03-01T03:00","v":0.09},{"t":"2026-03-01T06:00","v":0.025},{"t":"2026-03-01T09:00","v":0.085},{"t":"2026-03-01T12:00","v":0.03},{"t":"2026-03-01T15:00","v":0.095},{"t":"2026-03-01T18:00","v":0.025},{"t":"2026-03-01T21:00","v":0.08},
{"t":"2026-03-02T00:00","v":0.025},{"t":"2026-03-02T03:00","v":0.095},{"t":"2026-03-02T06:00","v":0.03},{"t":"2026-03-02T09:00","v":0.085},{"t":"2026-03-02T12:00","v":0.02},{"t":"2026-03-02T15:00","v":0.13},{"t":"2026-03-02T18:00","v":0.03},{"t":"2026-03-02T21:00","v":0.08},
{"t":"2026-03-03T00:00","v":0.03},{"t":"2026-03-03T03:00","v":0.125},{"t":"2026-03-03T06:00","v":0.025},{"t":"2026-03-03T09:00","v":0.115},{"t":"2026-03-03T12:00","v":0.03},{"t":"2026-03-03T15:00","v":0.08},{"t":"2026-03-03T18:00","v":0.025},{"t":"2026-03-03T21:00","v":0.08},
{"t":"2026-03-04T00:00","v":0.025},{"t":"2026-03-04T03:00","v":0.08},{"t":"2026-03-04T06:00","v":0.03},{"t":"2026-03-04T09:00","v":0.075},{"t":"2026-03-04T12:00","v":0.025},{"t":"2026-03-04T15:00","v":0.1},{"t":"2026-03-04T18:00","v":0.03},{"t":"2026-03-04T21:00","v":0.085},
{"t":"2026-03-05T00:00","v":0.03},{"t":"2026-03-05T03:00","v":0.09},{"t":"2026-03-05T06:00","v":0.025},{"t":"2026-03-05T09:00","v":0.12},{"t":"2026-03-05T12:00","v":0.03},{"t":"2026-03-05T15:00","v":0.125},{"t":"2026-03-05T18:00","v":0.025},{"t":"2026-03-05T21:00","v":0.1},
{"t":"2026-03-06T00:00","v":0.025},{"t":"2026-03-06T03:00","v":0.128},{"t":"2026-03-06T06:00","v":0.03},{"t":"2026-03-06T09:00","v":0.11},{"t":"2026-03-06T12:00","v":0.025},{"t":"2026-03-06T15:00","v":0.1},{"t":"2026-03-06T18:00","v":0.03},{"t":"2026-03-06T21:00","v":0.08},
{"t":"2026-03-07T00:00","v":0.03},{"t":"2026-03-07T03:00","v":0.08},{"t":"2026-03-07T06:00","v":0.025},{"t":"2026-03-07T09:00","v":0.085},{"t":"2026-03-07T12:00","v":0.03},{"t":"2026-03-07T15:00","v":0.12},{"t":"2026-03-07T18:00","v":0.025},{"t":"2026-03-07T21:00","v":0.08},
{"t":"2026-03-08T00:00","v":0.025},{"t":"2026-03-08T03:00","v":0.075},{"t":"2026-03-08T06:00","v":0.03},{"t":"2026-03-08T09:00","v":0.075},{"t":"2026-03-08T12:00","v":0.025},{"t":"2026-03-08T15:00","v":0.07},{"t":"2026-03-08T18:00","v":0.03},{"t":"2026-03-08T21:00","v":0.08},
{"t":"2026-03-09T00:00","v":0.03},{"t":"2026-03-09T03:00","v":0.1},{"t":"2026-03-09T06:00","v":0.025},{"t":"2026-03-09T09:00","v":0.11},{"t":"2026-03-09T12:00","v":0.03},{"t":"2026-03-09T15:00","v":0.118},{"t":"2026-03-09T18:00","v":0.025},{"t":"2026-03-09T21:00","v":0.08},
{"t":"2026-03-10T00:00","v":0.025},{"t":"2026-03-10T03:00","v":0.085},{"t":"2026-03-10T06:00","v":0.03},{"t":"2026-03-10T09:00","v":0.1},{"t":"2026-03-10T12:00","v":0.025},{"t":"2026-03-10T15:00","v":0.125},{"t":"2026-03-10T18:00","v":0.03},{"t":"2026-03-10T21:00","v":0.145},
{"t":"2026-03-11T00:00","v":0.03},{"t":"2026-03-11T03:00","v":0.11},{"t":"2026-03-11T06:00","v":0.025},{"t":"2026-03-11T09:00","v":0.145},{"t":"2026-03-11T12:00","v":0.03},{"t":"2026-03-11T15:00","v":0.13},{"t":"2026-03-11T18:00","v":0.025},{"t":"2026-03-11T21:00","v":0.1},
{"t":"2026-03-12T00:00","v":0.03},{"t":"2026-03-12T01:30","v":0.13},{"t":"2026-03-12T03:00","v":0.03},{"t":"2026-03-12T04:30","v":0.1},{"t":"2026-03-12T05:30","v":0.03},{"t":"2026-03-12T06:30","v":0.16},{"t":"2026-03-12T08:00","v":0.035},{"t":"2026-03-12T09:30","v":0.1},{"t":"2026-03-12T10:30","v":0.03},{"t":"2026-03-12T11:15","v":0.24},{"t":"2026-03-12T12:30","v":0.025},{"t":"2026-03-12T14:00","v":0.17},{"t":"2026-03-12T15:30","v":0.03},{"t":"2026-03-12T17:00","v":0.1},{"t":"2026-03-12T18:30","v":0.03},{"t":"2026-03-12T20:00","v":0.18},{"t":"2026-03-12T21:30","v":0.02},{"t":"2026-03-12T23:00","v":0.555},
{"t":"2026-03-13T00:30","v":0.03},{"t":"2026-03-13T02:00","v":0.27},{"t":"2026-03-13T03:30","v":0.02},{"t":"2026-03-13T05:00","v":0.13},{"t":"2026-03-13T06:30","v":0.015},{"t":"2026-03-13T08:00","v":0.12},{"t":"2026-03-13T09:30","v":0.02},{"t":"2026-03-13T11:00","v":0.12},{"t":"2026-03-13T12:00","v":0.04},{"t":"2026-03-13T13:30","v":0.1}
]},
"mark": {"type": "line", "strokeWidth": 6.25, "strokeJoin": "round", "strokeCap": "round", "invalid": "break-paths-show-domains", "clip": true},
"encoding": {
"x": {"field": "t", "type": "temporal",
 "scale": {"domain": [{"year": 2025, "month": 12, "date": 1, "hours": 20, "minutes": 40}, {"year": 2026, "month": 3, "date": 18, "hours": 8}]},
 "axis": {"values": [{"year": 2025, "month": 12, "date": 15}, {"year": 2026, "month": 1, "date": 1}, {"year": 2026, "month": 1, "date": 15}, {"year": 2026, "month": 2, "date": 1}, {"year": 2026, "month": 2, "date": 15}, {"year": 2026, "month": 3, "date": 1}, {"year": 2026, "month": 3, "date": 15}],
  "format": "%Y-%m-%d", "title": null, "labelAngle": 0, "labelFlush": false, "labelOverlap": false, "labelLimit": 600}},
"y": {"field": "v", "type": "quantitative",
 "scale": {"domain": [-0.0796, 1.858], "nice": false, "zero": false},
 "axis": {"values": [0, 0.25, 0.5, 0.75, 1, 1.25, 1.5, 1.75], "format": ".2f", "title": "Rolling Standard Deviation", "titlePadding": 17, "labelFlush": false, "labelLimit": 600}},
"color": {"datum": "Noise (STD)", "type": "nominal", "scale": {"range": ["#800080"]},
 "legend": {"title": null, "orient": "top-right", "offset": 21, "symbolType": "stroke", "symbolSize": 8100, "symbolStrokeWidth": 6.25, "labelFontSize": 41.67, "labelFont": "DejaVu Sans", "labelColor": "black", "labelOffset": 33, "labelLimit": 600, "padding": 16, "clipHeight": 42, "strokeColor": "#d5d5d5", "fillColor": "rgba(255,255,255,0.8)", "cornerRadius": 8,
  "encode": {"legend": {"update": {"strokeWidth": {"value": 3.3}}}}}}
},
"config": {
"font": "DejaVu Sans",
"view": {"stroke": "black", "strokeWidth": 3.3},
"axis": {"labelFont": "DejaVu Sans", "labelFontSize": 41.67, "labelColor": "black", "tickSize": 14.6, "tickWidth": 3.3, "tickColor": "black", "labelPadding": 14.6, "grid": true, "gridColor": "#b0b0b0", "gridWidth": 3.3, "domain": false, "titleFont": "DejaVu Sans", "titleFontSize": 41.67, "titleFontWeight": "normal", "titleColor": "black"}
}
}
